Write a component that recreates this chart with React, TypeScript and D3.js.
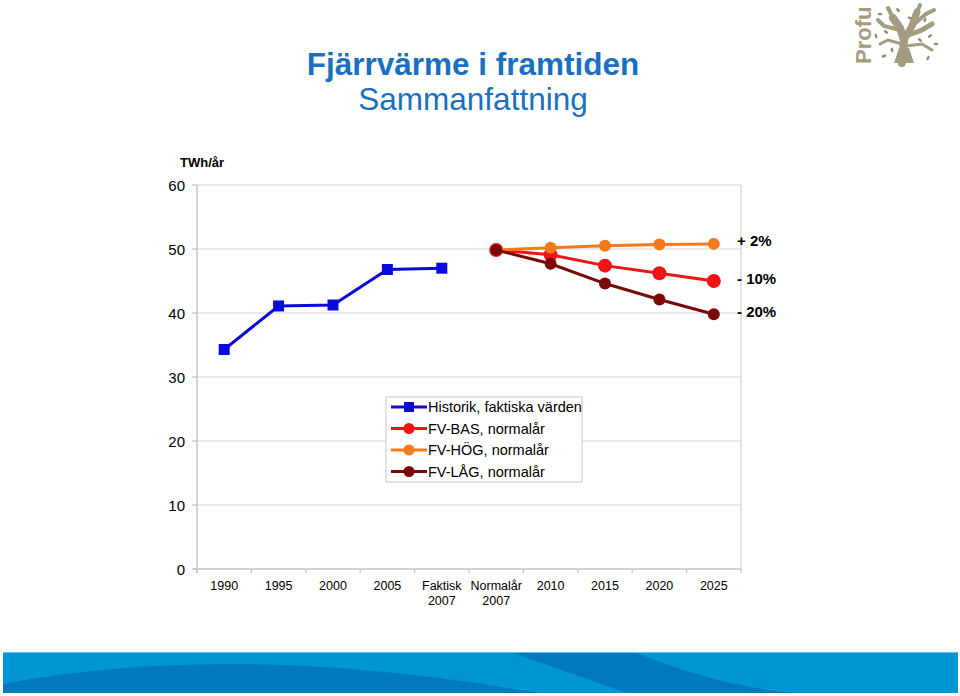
import React from 'react';
import * as d3 from 'd3';

const categories = ['1990', '1995', '2000', '2005', 'Faktisk 2007', 'Normalår 2007', '2010', '2015', '2020', '2025'];
const historik = [34.3, 41.1, 41.25, 46.8, 47.0, null, null, null, null, null];
const fvBas = [null, null, null, null, null, 49.85, 49.1, 47.4, 46.2, 45.0];
const fvHog = [null, null, null, null, null, 49.85, 50.2, 50.5, 50.7, 50.8];
const fvLag = [null, null, null, null, null, 49.85, 47.7, 44.6, 42.1, 39.8];
const yTicks = [0, 10, 20, 30, 40, 50, 60];
const endLabels = [
  { text: '+ 2%', value: 50.8 },
  { text: '- 10%', value: 45.0 },
  { text: '- 20%', value: 39.8 },
];

const series = [
  { name: 'Historik, faktiska värden', values: historik, color: '#0a0adc', marker: 'square', r: 5.5 },
  { name: 'FV-BAS, normalår', values: fvBas, color: '#f01414', marker: 'circle', r: 7 },
  { name: 'FV-HÖG, normalår', values: fvHog, color: '#f47a1c', marker: 'circle', r: 6 },
  { name: 'FV-LÅG, normalår', values: fvLag, color: '#7a0808', marker: 'circle', r: 6 },
];

const FONT = 'Arial, "Liberation Sans", sans-serif';

const App = () => {
  const width = 960;
  const height = 696;
  const plot = { left: 197, right: 741, top: 185, bottom: 569 };

  const x = d3.scaleBand().domain(categories).range([plot.left, plot.right]);
  const y = d3.scaleLinear().domain([0, 60]).range([plot.bottom, plot.top]);
  const cx = (c: string) => (x(c) as number) + x.bandwidth() / 2;

  const line = d3.line<number | null>()
    .defined(d => d != null)
    .x((_, i) => cx(categories[i]))
    .y(d => y(d as number));

  const boundaries = categories.map(c => x(c) as number).concat([plot.right]);

  const legend = { x: 386, y: 397, w: 196, h: 85 };

  return (
    <svg width={width} height={height} viewBox={`0 0 ${width} ${height}`}
      style={{ position: 'absolute', left: 0, top: 0, background: '#fff' }} fontFamily={FONT}>
      {/* title */}
      <text x={473} y={75} textAnchor="middle" fontSize={31.5} fontWeight="bold" fill="#1a70c0">Fjärrvärme i framtiden</text>
      <text x={473} y={110} textAnchor="middle" fontSize={31.5} fill="#1a70c0">Sammanfattning</text>

      {/* logo */}
      <g>
        <text transform="translate(871,64) rotate(-90)" fontSize={22} fontWeight="bold" fill="#a39c80">Profu</text>
        <g stroke="#a39c80" strokeLinecap="round" fill="none">
          <path d="M902,63 L904,40 L900,28 L893,18" strokeWidth={8} />
          <path d="M904,40 L912,26 L917,12" strokeWidth={7} />
          <path d="M900,30 L884,26 L878,20" strokeWidth={4} />
          <path d="M906,36 L922,30 L932,24" strokeWidth={5} />
          <path d="M912,26 L926,14 L934,10" strokeWidth={4} />
          <path d="M893,18 L888,8" strokeWidth={4} />
          <path d="M917,12 L920,5" strokeWidth={4} />
          <path d="M902,44 L888,40 L880,44" strokeWidth={3} />
          <path d="M906,46 L922,44 L932,50" strokeWidth={3} />
        </g>
        <path d="M894,63 L914,63 L909,48 L899,48 Z" fill="#a39c80" />
        <g fill="#8f8a70">
          {[[880, 14], [886, 32], [876, 36], [925, 20], [930, 36], [936, 44], [920, 40], [892, 50], [928, 58], [884, 56], [910, 18], [898, 10]].map(([a, b], i) => (
            <ellipse key={i} cx={a} cy={b} rx={2.4} ry={1.3} transform={`rotate(${i * 37},${a},${b})`} />
          ))}
        </g>
      </g>

      {/* grid */}
      {yTicks.filter(t => t > 0).map(t => (
        <line key={`g${t}`} x1={plot.left} x2={plot.right} y1={y(t)} y2={y(t)} stroke="#d4d4d4" strokeWidth={1.2} />
      ))}
      <line x1={plot.right} x2={plot.right} y1={plot.top} y2={plot.bottom} stroke="#d4d4d4" strokeWidth={1.2} />

      {/* axes */}
      <line x1={plot.left} x2={plot.left} y1={plot.top} y2={plot.bottom + 4} stroke="#c4c4c4" strokeWidth={1.5} />
      <line x1={plot.left - 4} x2={plot.right} y1={plot.bottom} y2={plot.bottom} stroke="#c4c4c4" strokeWidth={1.5} />
      {yTicks.map(t => (
        <g key={`y${t}`}>
          <line x1={plot.left - 5} x2={plot.left} y1={y(t)} y2={y(t)} stroke="#c4c4c4" strokeWidth={1.2} />
          <text x={185} y={y(t) + 5.5} textAnchor="end" fontSize={15} fill="#000">{t}</text>
        </g>
      ))}
      {boundaries.map((b, i) => (
        <line key={`xt${i}`} x1={b} x2={b} y1={plot.bottom} y2={plot.bottom + 4} stroke="#c4c4c4" strokeWidth={1.2} />
      ))}
      {categories.map(c => {
        const parts = c.split(' ');
        return (
          <text key={c} x={cx(c)} y={590} textAnchor="middle" fontSize={12.5} fill="#000">
            {parts.map((p, i) => (
              <tspan key={i} x={cx(c)} dy={i === 0 ? 0 : 15}>{p}</tspan>
            ))}
          </text>
        );
      })}
      <text x={180} y={167} fontSize={13} fontWeight="bold" fill="#000">TWh/år</text>

      {/* series */}
      {series.map(s => (
        <g key={s.name}>
          <path d={line(s.values) || ''} fill="none" stroke={s.color} strokeWidth={3} />
          {s.values.map((v, i) => v == null ? null : (
            s.marker === 'square'
              ? <rect key={i} x={cx(categories[i]) - s.r} y={y(v) - s.r} width={s.r * 2} height={s.r * 2} fill={s.color} />
              : <circle key={i} cx={cx(categories[i])} cy={y(v)} r={s.r} fill={s.color} />
          ))}
        </g>
      ))}

      {/* end labels */}
      {endLabels.map(l => (
        <text key={l.text} x={737} y={y(l.value) + 2.5} fontSize={15} fontWeight="bold" fill="#000">{l.text}</text>
      ))}

      {/* legend */}
      <rect x={legend.x} y={legend.y} width={legend.w} height={legend.h} fill="#fff" stroke="#c8c8c8" />
      {series.map((s, i) => {
        const ly = legend.y + 10 + i * 21.5;
        return (
          <g key={`l${i}`}>
            <line x1={391} x2={427} y1={ly} y2={ly} stroke={s.color} strokeWidth={3} />
            {s.marker === 'square'
              ? <rect x={409 - 5} y={ly - 5} width={10} height={10} fill={s.color} />
              : <circle cx={409} cy={ly} r={5.5} fill={s.color} />}
            <text x={428} y={ly + 5} fontSize={14.5} fill="#000">{s.name}</text>
          </g>
        );
      })}

      {/* footer band */}
      <rect x={3} y={652} width={955} height={41} fill="#0096d6" />
      <path d="M3,684 C80,669 160,664 240,664 C360,665 460,680 540,693 L3,693 Z" fill="#0079c0" />
      <path d="M513,653 L636,653 C690,674 740,688 793,693 L627,693 Z" fill="#0079c0" />
      <line x1={3} x2={958} y1={652.5} y2={652.5} stroke="#5ec2ec" strokeWidth={1} />
    </svg>
  );
};

export default App;
